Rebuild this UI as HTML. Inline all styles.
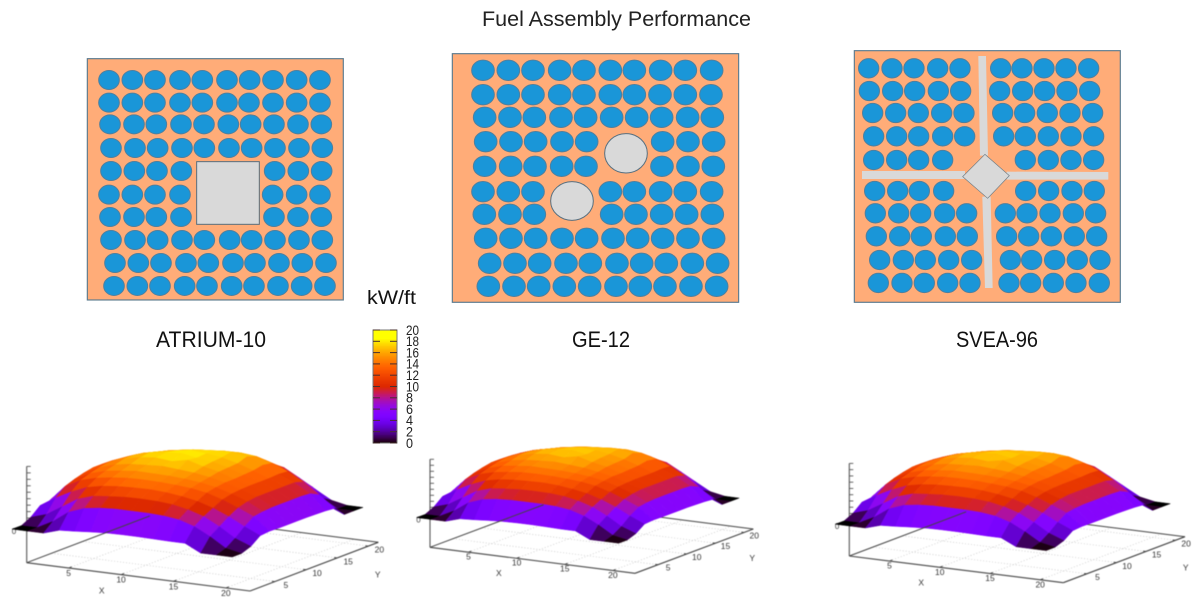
<!DOCTYPE html>
<html lang="en">
<head>
<meta charset="utf-8">
<title>Fuel Assembly Performance</title>
<style>
html,body{margin:0;padding:0;background:#fff;}
svg{display:block;font-family:"Liberation Sans",sans-serif;}
.soft{filter:blur(.45px);}
.soft2{filter:blur(.3px);}
</style>
</head>
<body>
<svg id="figure" xmlns="http://www.w3.org/2000/svg" width="1200" height="604" viewBox="0 0 1200 604">
  <text x="482" y="26" font-size="21" textLength="269" lengthAdjust="spacingAndGlyphs" fill="#222">Fuel Assembly Performance</text>
  <g id="schematics" class="soft2"></g>
  <text x="156" y="347" font-size="22.5" textLength="110" lengthAdjust="spacingAndGlyphs" fill="#111">ATRIUM-10</text>
  <text x="572" y="347" font-size="22.5" textLength="58" lengthAdjust="spacingAndGlyphs" fill="#111">GE-12</text>
  <text x="956" y="347" font-size="22.5" textLength="82" lengthAdjust="spacingAndGlyphs" fill="#111">SVEA-96</text>
  <text x="367" y="304" font-size="19" textLength="49" lengthAdjust="spacingAndGlyphs" fill="#111">kW/ft</text>
  <g id="colorbar"></g>
  <g id="plots" class="soft"></g>
</svg>
<script>
// ---- chart data ----
var xNodes = [-0.4,1.1,2.6,4.1,5.6,7.1,8.6,10.1,11.6,13.1,14.6,16.1,17.6,19.1,20.6];
var yNodes = [1,2.5,4,5.5,7,8.5,10,11.5,13,14.5,16,17.5,19,20.5,22];
var powerGrid = [
 [0,0,0,1.5,1.8,2.2,2.5,2.6,2.6,2.5,2.4,2.4,0,0,0],
 [0,0,2.5,6,7.8,8.5,8.8,8.8,8.8,8.6,8,6.5,4,1,0],
 [1.5,3,6,9,10.5,11,11.4,11.5,11.4,11,10,8.5,6,3,1.1],
 [4,7,9.5,11.5,12.5,13,13.2,13.3,13,12.4,11.5,10,8,5.5,3.3],
 [4.4,9.5,12,13.3,14,14.5,14.6,14.5,14.2,13.8,13,11.5,9.6,7.5,3.6],
 [5.9,10.6,13,14.4,15,15.5,15.4,15.3,15,14.5,13.6,12.2,10.4,8,3.5],
 [7.2,11.4,13.8,15.2,16,16.3,16.6,16.2,15.8,15,14,12.5,10.8,8.2,3.5],
 [8.2,12,14.3,16,17,17.5,17,18,16.6,15.6,14,12.6,10.8,8.2,3.5],
 [9,12,14.1,16,17.4,18,18.4,17.6,17,15.8,14.2,12.6,10.8,8.2,3.5],
 [9.5,11.9,13.8,15.5,16.6,17.4,18.3,17.8,17.2,16,14.4,12.6,10.8,8.2,3.4],
 [9.4,11.5,13.4,14.6,15.8,16.6,17.2,17.6,17.8,17,15,12.8,10.8,8,3.3],
 [9.3,11.2,12.7,13.8,14.8,15.6,16,16.4,16.5,16,14.5,12.6,10,6.6,3],
 [9,10.7,11.5,12.5,13.3,14,14.3,14.6,14.6,13.7,12.2,9.6,7.2,2,0],
 [8,9,10,10.5,11,11.2,11.5,11.5,11.5,11.3,9.2,6.7,2.7,0,0],
 [7,8,9,9.5,10,10,10,10,10,9.2,6.5,3.7,1,0,0]
];
var assemblyNames = ["atrium-10","ge-12","svea-96"];
var assemblyPeakScale = [1,0.95,0.95];
var xTickLabels = [5,10,15,20];
var yTickLabels = [5,10,15,20];
var zTickLabels = [0,2,4,6,8,10,12,14,16,18,20];
var colorbarLabels = [0,2,4,6,8,10,12,14,16,18,20];

// ---- helpers ----
var NS = "http://www.w3.org/2000/svg";
function mk(parent, tag, attrs, text){
  var el = document.createElementNS(NS, tag);
  for (var k in attrs) el.setAttribute(k, attrs[k]);
  if (text !== undefined) el.textContent = text;
  parent.appendChild(el);
  return el;
}
function palette(v){
  var g = Math.max(0, Math.min(1, v / 20));
  var t = Math.max(0, Math.min(1, (g - 0.3) / 0.2));
  var boost = 1 + 0.22 * t * t * (3 - 2 * t);
  var r = Math.min(1, Math.sqrt(g) * boost);
  var gr = Math.min(1, g * g * g * (1 + 0.25 * t));
  var b = Math.max(0, Math.sin(2 * Math.PI * g));
  return "rgb(" + Math.round(r * 255) + "," + Math.round(gr * 255) + "," + Math.round(b * 255) + ")";
}

// ---- colourbar ----
var cbar = document.getElementById("colorbar");
var cbLeft = 373, cbRight = 397, cbTop = 330, cbBottom = 443;
function cbY(v){ return cbBottom - (v / 20) * (cbBottom - cbTop); }
for (var v = 0; v < 20; v += 0.25) {
  var cbStep = mk(cbar, "rect", {x: cbLeft, y: cbY(v + 0.25), width: cbRight - cbLeft, height: cbY(v) - cbY(v + 0.25) + 0.5, fill: palette(v + 0.125)});
  
  
}
var cbFrame = mk(cbar, "rect", {x: cbLeft, y: cbTop, width: cbRight - cbLeft, height: cbBottom - cbTop, fill: "none", stroke: "#777", "stroke-width": 1});


colorbarLabels.forEach(function(val){
  var y = cbY(val);
  var tl = mk(cbar, "line", {x1: cbLeft, x2: cbLeft + 7, y1: y, y2: y, stroke: "#4a3030", "stroke-width": 1});
  
  
  var tr = mk(cbar, "line", {x1: cbRight - 7, x2: cbRight, y1: y, y2: y, stroke: "#4a3030", "stroke-width": 1});
  
  
  var lb = mk(cbar, "text", {x: 406, y: y + 4.8, "font-size": 14, textLength: val < 10 ? 7 : 13, lengthAdjust: "spacingAndGlyphs", fill: "#222"}, String(val));
  
  
});

// ---- surface plots ----
var plotFrames = [
  {base:[26.7,562.7], xv:[223.3,28.3], yv:[128.3,-48.7], z0:31.7, zu:3.23},
  {base:[430,547.3],  xv:[205,26],     yv:[118.3,-44.3], z0:28,   zu:3.0},
  {base:[849.3,556],  xv:[214,26.7],   yv:[121.7,-46],   z0:30,   zu:3.13}
];
var xAxisMin = 1, xAxisMax = 22.3, yAxisMin = 1, yAxisMax = 21.6;

function makePlot(idx){
  var f = plotFrames[idx], name = assemblyNames[idx], scale = assemblyPeakScale[idx];
  var root = document.getElementById("plots");
  var g = mk(root, "g", {});
  
  
  var s = f.xv[0] / 223.3;
  function project(x, y, z){
    var u = (x - xAxisMin) / (xAxisMax - xAxisMin);
    var w = (y - yAxisMin) / (yAxisMax - yAxisMin);
    return [f.base[0] + u * f.xv[0] + w * f.yv[0],
            f.base[1] + u * f.xv[1] + w * f.yv[1] - (z === null ? 0 : f.z0 + z * f.zu)];
  }
  function line(a, b, stroke, width, dash, nm){
    var attrs = {x1:a[0], y1:a[1], x2:b[0], y2:b[1], stroke:stroke, "stroke-width":width};
    if (dash) attrs["stroke-dasharray"] = dash;
    var l = mk(g, "line", attrs);
    
    
    return l;
  }
  var c00 = project(xAxisMin, yAxisMin, null), c10 = project(xAxisMax, yAxisMin, null),
      c11 = project(xAxisMax, yAxisMax, null), c01 = project(xAxisMin, yAxisMax, null);
  // floor grid
  xTickLabels.forEach(function(t){
    line(project(t, yAxisMin, null), project(t, yAxisMax, null), "#c4c4c4", 0.7, "1 2", "x-grid-line");
  });
  yTickLabels.forEach(function(t){
    line(project(xAxisMin, t, null), project(xAxisMax, t, null), "#c4c4c4", 0.7, "1 2", "y-grid-line");
  });
  // back borders and z axis (behind the surface)
  line(c01, c11, "#444", 1, null, "back-border");
  var zTop = [c00[0], c00[1] - f.z0 - 20 * f.zu];
  line(c00, zTop, "#555", 1.1, null, "z-axis");
  zTickLabels.forEach(function(t){
    var y = c00[1] - f.z0 - t * f.zu;
    line([c00[0], y], [c00[0] + 4, y], "#555", 0.9, null, "z-axis-tick");
  });
  var zl = mk(g, "text", {x: c00[0] - 15 * s, y: c00[1] - f.z0 + 3, "font-size": 8, fill: "#444"}, "0");
  
  
  // surface, painted back to front
  var cells = [];
  for (var j = 0; j < yNodes.length - 1; j++)
    for (var i = 0; i < xNodes.length - 1; i++)
      cells.push([i, j]);
  cells.sort(function(a, b){ return (a[0] - a[1]) - (b[0] - b[1]); });
  cells.forEach(function(c){
    var i = c[0], j = c[1];
    var zs = [powerGrid[j][i], powerGrid[j][i+1], powerGrid[j+1][i+1], powerGrid[j+1][i]].map(function(z){ return z * scale; });
    var pts = [project(xNodes[i], yNodes[j], zs[0]), project(xNodes[i+1], yNodes[j], zs[1]),
               project(xNodes[i+1], yNodes[j+1], zs[2]), project(xNodes[i], yNodes[j+1], zs[3])];
    var col = palette((zs[0] + zs[1] + zs[2] + zs[3]) / 4);
    var poly = mk(g, "polygon", {points: pts.map(function(p){ return p[0].toFixed(1) + "," + p[1].toFixed(1); }).join(" "), fill: col, stroke: col, "stroke-width": 0.5});
    
    
  });
  // front borders
  line(c00, c10, "#444", 1.1, null, "x-axis");
  line(c10, c11, "#444", 1.1, null, "y-axis");
  var cutoff = [c00[0] + (c01[0] - c00[0]) * 0.96, c00[1] + (c01[1] - c00[1]) * 0.96];
  line(c00, cutoff, "#444", 1, null, "left-border");
  // ticks and labels
  xTickLabels.forEach(function(t){
    var p = project(t, yAxisMin, null);
    line(p, [p[0] + 3 * s, p[1] - 1.2 * s], "#444", 0.9, null, "x-axis-tick");
    var tx = mk(g, "text", {x: p[0], y: p[1] + 8 * s, "font-size": 8.5, "text-anchor": "middle", fill: "#333"}, String(t));
    
    
  });
  yTickLabels.forEach(function(t){
    var p = project(xAxisMax, t, null);
    line(p, [p[0] - 3 * s, p[1] - 0.4 * s], "#444", 0.9, null, "y-axis-tick");
    var ty = mk(g, "text", {x: p[0] + 11 * s, y: p[1] + 6.5 * s, "font-size": 8.5, "text-anchor": "middle", fill: "#333"}, String(t));
    
    
  });
  var xt = mk(g, "text", {x: f.base[0] + 75 * s, y: f.base[1] + 31 * s, "font-size": 8.5, "text-anchor": "middle", fill: "#333"}, "X");
  
  
  var yt = mk(g, "text", {x: f.base[0] + 351 * s, y: f.base[1] + 15 * s, "font-size": 8.5, "text-anchor": "middle", fill: "#333"}, "Y");
  
  
}
for (var pi = 0; pi < plotFrames.length; pi++) makePlot(pi);

// ---- fuel assembly schematics (coordinates in 3x zoom space of each panel) ----
var atriumPins = [
 [90,[87,157,225,300,367,441,509,579,650,720]],
 [158,[87,157,225,300,367,441,507,579,650,720]],
 [223,[90,162,229,303,372,445,512,582,654,724]],
 [294,[93,165,233,306,373,447,515,585,657,727]],
 [363,[93,163,231,304,584,655,725]],
 [434,[87,157,225,300,578,650,720]],
 [501,[90,162,229,303,582,654,724]],
 [570,[93,165,233,306,373,449,515,585,657,727]],
 [639,[105,175,243,318,385,459,525,597,667,738]],
 [708,[102,172,240,314,381,455,522,594,665,735]]
];
var gePins = [
 [76,[114,190,264,344,417,496,568,647,721,800]],
 [149,[114,190,264,344,417,496,568,645,721,798]],
 [217,[119,195,268,348,422,500,575,650,728,802]],
 [290,[122,198,272,351,425,653,729,806]],
 [364,[119,197,270,350,423,651,729,805]],
 [440,[114,190,264,496,568,647,721,800]],
 [508,[118,195,268,500,573,650,725,802]],
 [580,[122,198,272,351,425,504,578,653,729,806]],
 [655,[134,210,284,363,436,516,590,664,742,818]],
 [724,[130,207,281,358,434,513,586,660,738,815]]
];
var sveaPins = [
 [70,[56,126,192,263,330,452,516,582,648,716]],
 [138,[58,128,194,265,332,449,518,584,651,719]],
 [204,[68,137,205,275,342,458,524,592,660,728]],
 [274,[71,140,206,278,344,461,526,595,663,731]],
 [345,[71,140,206,278,526,595,663,731]],
 [438,[74,143,208,281,527,596,666,733]],
 [505,[76,146,212,284,350,466,531,600,670,737]],
 [574,[79,149,214,286,352,470,536,604,673,740]],
 [645,[89,160,226,296,365,481,545,614,682,750]],
 [714,[85,156,223,293,360,477,542,610,678,748]]
];
function panel(ox, oy, name, rect, rows, rx, ry, extras){
  var root = document.getElementById("schematics");
  var g = mk(root, "g", {transform: "translate(" + ox + " " + oy + ") scale(0.3333)"});
  
  
  var bg = mk(g, "rect", {x: rect[0], y: rect[1], width: rect[2] - rect[0], height: rect[3] - rect[1], fill: "#FFAC78", stroke: "#5d7b8f", "stroke-width": 3.5});
  
  
  rows.forEach(function(r){
    r[1].forEach(function(cx){
      var pin = mk(g, "ellipse", {cx: cx, cy: r[0], rx: rx, ry: ry, fill: "#1A96D8", stroke: "#4f7f9e", "stroke-width": 3});
      
      
    });
  });
  extras(g);
}
panel(80, 50, "atrium-10", [22,26,790,750], atriumPins, 31, 28.5, function(g){
  var box = mk(g, "rect", {x: 350, y: 335, width: 188, height: 188, fill: "#D9D9D9", stroke: "#566f80", "stroke-width": 3});
  
  
});
panel(445, 45, "ge-12", [22,26,881,772], gePins, 34, 30.5, function(g){
  var a = mk(g, "ellipse", {cx: 543, cy: 325, rx: 64, ry: 59, fill: "#D9D9D9", stroke: "#566f80", "stroke-width": 3});
  
  
  var b = mk(g, "ellipse", {cx: 381, cy: 468, rx: 64, ry: 58, fill: "#D9D9D9", stroke: "#566f80", "stroke-width": 3});
  
  
});
panel(850, 45, "svea-96", [13,17,811,772], sveaPins, 30.5, 29, function(g){
  var cross = [
    "385,33 408,33 414,332 390,332",
    "397,455 422,455 428,729 405,729",
    "36,378 345,378 345,402 36,402",
    "470,380 775,381 775,404 470,404"
  ];
  cross.forEach(function(p){
    var arm = mk(g, "polygon", {points: p, fill: "#D9D9D9"});
    
    
  });
  var d = mk(g, "polygon", {points: "405,328 478,392 413,460 338,395", fill: "#D9D9D9", stroke: "#6c7c86", "stroke-width": 2});
  
  
});
</script>
</body>
</html>
